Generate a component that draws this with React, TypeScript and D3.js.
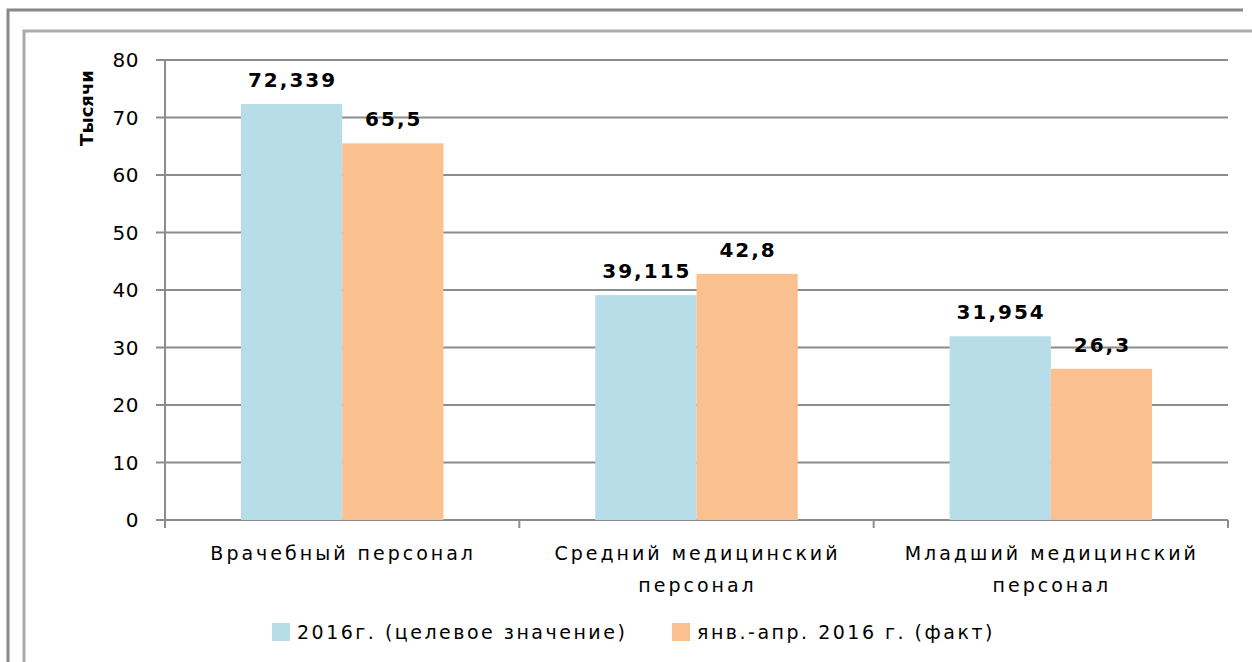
import React from "react";
import * as d3 from "d3";

const categories: string[][] = [
  ["Врачебный персонал"],
  ["Средний медицинский", "персонал"],
  ["Младший медицинский", "персонал"],
];
const seriesNames = ["2016г. (целевое значение)", "янв.-апр. 2016 г. (факт)"];
const target2016 = [72.339, 39.115, 31.954];
const actualJanApr = [65.5, 42.8, 26.3];
const targetLabels = ["72,339", "39,115", "31,954"];
const actualLabels = ["65,5", "42,8", "26,3"];
const yTicks = [0, 10, 20, 30, 40, 50, 60, 70, 80];
const colors = ["#B7DDE8", "#FAC090"];

export default function App() {
  const W = 1252, H = 662;
  const left = 165, right = 1228, top = 60, bottom = 520;
  const y = d3.scaleLinear().domain([0, 80]).range([bottom, top]);
  const x0 = d3.scaleBand<number>().domain([0, 1, 2]).range([left, right]).paddingInner(0).paddingOuter(0);
  const bw = x0.bandwidth();
  const barW = bw / (2 + 1.5);
  const series = [target2016, actualJanApr];
  const labels = [targetLabels, actualLabels];
  const font = "DejaVu Sans, Verdana, sans-serif";
  const gridColor = "#8C8C8C";
  return (
    <svg width={W} height={H} style={{ position: "absolute", left: 0, top: 0, background: "#fff" }} fontFamily={font}>
      {/* frames */}
      <path d="M8,662 L8,10 L1243,10" fill="none" stroke="#888" strokeWidth={3} />
      <path d="M24,662 L24,31 L1252,31" fill="none" stroke="#aaa" strokeWidth={3} />
      {/* gridlines */}
      {yTicks.map((t) => (
        <g key={t}>
          <line x1={156} x2={right} y1={y(t)} y2={y(t)} stroke={gridColor} strokeWidth={2} />
          <text x={139} y={y(t)} dy="0.36em" textAnchor="end" fontSize={20} letterSpacing={0.5} fill="#000">{t}</text>
        </g>
      ))}
      <line x1={left} x2={left} y1={top} y2={bottom + 8} stroke={gridColor} strokeWidth={2} />
      {[1, 2, 3].map((i) => (
        <line key={i} x1={left + i * bw} x2={left + i * bw} y1={bottom} y2={bottom + 8} stroke={gridColor} strokeWidth={2} />
      ))}
      {/* bars */}
      {series.map((s, si) =>
        s.map((v, ci) => {
          const bx = (x0(ci) as number) + barW * 0.75 + si * barW;
          return (
            <g key={`${si}-${ci}`}>
              <rect x={bx} y={y(v)} width={barW} height={bottom - y(v)} fill={colors[si]} />
              <text x={bx + barW / 2 + 1} y={y(v) - 17} textAnchor="middle" fontSize={20} fontWeight="bold" letterSpacing={2} fill="#000">
                {labels[si][ci]}
              </text>
            </g>
          );
        })
      )}
      {/* category labels */}
      {categories.map((lines, ci) =>
        lines.map((ln, li) => (
          <text key={`${ci}-${li}`} x={(x0(ci) as number) + bw / 2 + 1} y={560 + li * 32} textAnchor="middle" fontSize={19} letterSpacing={3} fill="#000">
            {ln}
          </text>
        ))
      )}
      {/* y title */}
      <text transform="translate(93,108) rotate(-90)" textAnchor="middle" fontSize={18} fontWeight="bold" letterSpacing={0} fill="#000">Тысячи</text>
      {/* legend */}
      {seriesNames.map((n, i) => {
        const lx = [272, 672][i];
        return (
          <g key={n}>
            <rect x={lx} y={623} width={18} height={18} fill={colors[i]} />
            <text x={lx + 25} y={639} fontSize={19} letterSpacing={2.5} fill="#000">{n}</text>
          </g>
        );
      })}
    </svg>
  );
}
